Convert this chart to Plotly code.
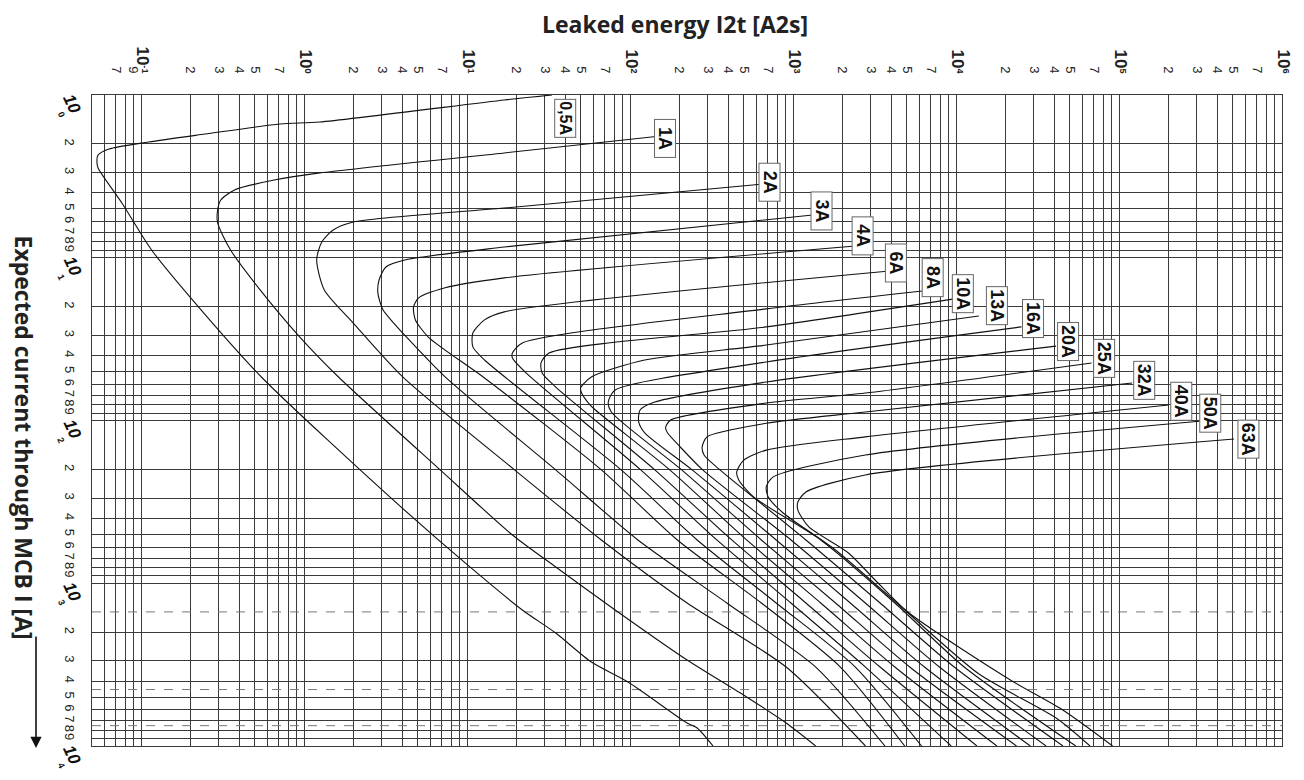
import numpy as np
import plotly.graph_objects as go

# ---------------- data ----------------
ratings = ["0,5A", "1A", "2A", "3A", "4A", "6A", "8A", "10A", "13A", "16A",
           "20A", "25A", "32A", "40A", "50A", "63A"]

# label box positions (I2t [A2s], current [A])
label_E = [40.0, 164, 716, 1496, 2673, 4266, 7200, 11010, 17810, 29660,
           48660, 81040, 142700, 240900, 363100, 622000]
label_I = [1.385, 1.837, 3.43, 5.16, 7.35, 10.8, 13.3, 16.7, 19.8, 23.8,
           32.5, 41.3, 56.4, 75.9, 89.9, 130]

E_05 = [28.9, 14.6, 1.04, 0.589, 0.201, 0.0897, 0.0509, 0.0435, 0.0428, 0.0435, 0.0612,
        0.0936, 0.19, 0.457, 2.88, 8.92, 18.9, 30.5, 50.8, 85.8, 200, 231, 290]
I_05 = [1.0, 1.073, 1.465, 1.507, 1.738, 1.944, 2.147, 2.337, 2.58, 2.81, 4.61,
        8.96, 20.9, 54.8, 299, 794, 1459, 2023, 3050, 4045, 7230, 7750, 10000]

E_1 = [137, 14.6, 1.04, 0.541, 0.307, 0.252, 0.241, 0.241, 0.29, 0.444, 0.782, 1.38,
       5.83, 16.4, 30.5, 71.4, 200, 469, 826, 1260]
I_1 = [1.786, 2.27, 3.01, 3.33, 3.83, 4.42, 5.09, 6.11, 8.96, 15.8, 30.7, 54.8,
       201, 505, 794, 1459, 2963, 5000, 7230, 10000]

E_2 = [596, 14.6, 1.68, 1.26, 1.07, 0.995, 1.11, 1.68, 3.41, 16.9, 58.6, 200, 826, 2570]
I_2 = [3.52, 4.95, 6.03, 6.75, 8.0, 10.3, 15.8, 25.2, 54.0, 201, 542, 1322, 3272, 10000]

E_3 = [1208, 14.6, 3.56, 2.68, 2.43, 2.39, 2.57, 3.0, 3.41, 6.26, 30.5, 98.9, 353, 1262, 3400]
I_3 = [5.46, 8.59, 10.3, 11.4, 13.7, 16.5, 20.9, 25.2, 29.0, 54.0, 201, 542, 1322, 3272, 10000]

E_4 = [2223, 14.6, 6.26, 4.27, 3.98, 4.09, 4.92, 11.0, 58.6, 174, 579, 1795, 4510]
I_4 = [8.47, 13.3, 15.3, 17.7, 20.1, 24.1, 30.7, 54.8, 201, 542, 1322, 3272, 10000]

E_6 = [3499, 14.6, 11.0, 9.31, 9.31, 11.0, 77.8, 231, 716, 2223, 5740]
I_6 = [12.1, 21.5, 24.1, 29.0, 35.3, 42.5, 201, 542, 1322, 3272, 10000]

E_8 = [5820, 621, 18.9, 16.4, 16.4, 20.0, 103, 306, 885, 2570, 8770]
I_8 = [16.0, 20.6, 33.4, 38.5, 41.3, 51.1, 201, 542, 1322, 3272, 10000]

E_10 = [9160, 621, 27.7, 24.7, 25.1, 30.5, 126, 379, 1096, 3170, 12680]
I_10 = [17.9, 26.6, 38.5, 44.3, 51.1, 62.3, 201, 542, 1322, 3272, 10000]

E_13 = [13040, 621, 109, 50.8, 43.5, 44.2, 48.7, 53.8, 156, 469, 1355, 3917, 16870]
I_13 = [22.8, 34.4, 42.5, 54.0, 63.1, 67.8, 78.1, 86.2, 201, 542, 1322, 3272, 10000]

E_16 = [23990, 621, 71.4, 64.7, 67.6, 185, 579, 1675, 4845, 22340]
I_16 = [26.6, 43.7, 65.0, 77.0, 88.7, 201, 542, 1322, 3272, 10000]

E_20 = [39360, 621, 126, 102, 100, 109, 215, 716, 2070, 5984, 27220]
I_20 = [34.9, 58.0, 77.0, 86.2, 102, 119, 201, 542, 1322, 3272, 10000]

E_25 = [65460, 2567, 621, 158, 147, 151, 182, 250, 885, 2567, 7413, 34120]
I_25 = [44.3, 67.8, 78.1, 99.3, 110, 119, 146, 201, 542, 1322, 3272, 10000]

E_32 = [117000, 2567, 621, 266, 248, 255, 320, 1096, 3170, 9160, 43460]
I_32 = [58.8, 88.7, 104, 126, 146, 163, 201, 542, 1322, 3272, 10000]

E_40 = [197700, 2567, 621, 450, 407, 419, 518, 1355, 3917, 10570, 52240]
I_40 = [80.3, 126, 152, 175, 207, 232, 295, 542, 1322, 3272, 10000]

E_50 = [306300, 2567, 686, 621, 639, 791, 1675, 4300, 13000, 40000, 64000]
I_50 = [101, 163, 222, 256, 295, 370, 625, 1400, 3600, 6800, 10000]

E_63 = [503500, 2567, 1096, 977, 977, 1143, 2015, 2951, 4710, 20480, 43350, 88500]
I_63 = [130, 216, 275, 317, 355, 451, 652, 955, 1503, 3930, 6010, 10000]

curves_E = [E_05, E_1, E_2, E_3, E_4, E_6, E_8, E_10, E_13, E_16, E_20, E_25, E_32, E_40, E_50, E_63]
curves_I = [I_05, I_1, I_2, I_3, I_4, I_6, I_8, I_10, I_13, I_16, I_20, I_25, I_32, I_40, I_50, I_63]

# breaking-capacity reference levels (dashed)
dashed_levels = [1500, 4500, 7500]

# axis ticks
x_range = [0.05, 1e6]
y_range = [1, 1e4]
x_decades = [-1, 0, 1, 2, 3, 4, 5, 6]
x_minor_labeled = {2: "2", 3: "3", 4: "4", 5: "5", 7: "7"}
y_decades = [0, 1, 2, 3, 4]

# ---------------- layout geometry ----------------
# the page body adds an 8 px offset, so the figure is drawn 16 px smaller
W, H = 1288, 764
ML, MR, MT, MB = 68, 14, 87, 26
EXTRA_L = 16                      # main grid starts 16 px right of the margin
plot_w = W - ML - MR
x_lo, x_hi = np.log10(x_range[0]), np.log10(x_range[1])
dec_px = (plot_w - EXTRA_L) / (x_hi - x_lo)
x2_lo = x_lo - EXTRA_L / dec_px   # overlay axis with identical scale, a bit wider

fig = go.Figure()

GRID = "#3a3a3a"
TICKFONT = dict(family="Liberation Sans, Arial, sans-serif", size=13, color="#222")
TITLEFONT = dict(family="Open Sans, Noto Sans, sans-serif", size=23, color="#222")
BOXFONT = "Liberation Sans Narrow, Arial Narrow, Liberation Sans, sans-serif"

for lvl in dashed_levels:
    fig.add_trace(go.Scatter(x=x_range, y=[lvl, lvl], mode="lines",
                             line=dict(color="#777", width=1, dash="dash"),
                             hoverinfo="skip", showlegend=False))

for name, E, I in zip(ratings, curves_E, curves_I):
    fig.add_trace(go.Scatter(x=E, y=I, mode="lines", name=name, xaxis="x2",
                             line=dict(color="#111", width=1.1, shape="spline", smoothing=0.7),
                             showlegend=False))

# x ticks: labelled ones as major ticks, the rest as minor grid lines
xt_vals, xt_text, xm_vals = [], [], []
for m in [6, 7, 8, 9]:
    if m in (7, 9):
        xt_vals.append(m * 0.01)
        xt_text.append(str(m))
    else:
        xm_vals.append(m * 0.01)
for d in x_decades:
    xt_vals.append(10.0 ** d)
    xt_text.append("<b><span style='font-size:17px'>10</span><sup>%d</sup></b>" % d)
    if d < 6:
        for m in range(2, 10):
            if m in x_minor_labeled:
                xt_vals.append(m * 10.0 ** d)
                xt_text.append(x_minor_labeled[m])
            else:
                xm_vals.append(m * 10.0 ** d)

yt_vals, yt_text, ym_vals = [], [], []
for d in y_decades:
    ym_vals.append(10.0 ** d)
    if d < 4:
        for m in range(2, 10):
            yt_vals.append(m * 10.0 ** d)
            yt_text.append(str(m))

fig.update_layout(
    xaxis=dict(type="log", range=[x_lo, x_hi], domain=[EXTRA_L / plot_w, 1],
               side="top", tickmode="array", tickvals=xt_vals, ticktext=xt_text,
               tickangle=90, ticks="", ticklabelstandoff=16, tickfont=TICKFONT,
               showgrid=True, gridcolor=GRID, gridwidth=1, automargin=False,
               minor=dict(tickmode="array", tickvals=xm_vals, showgrid=True,
                          gridcolor=GRID, gridwidth=1, ticks=""),
               showline=True, linecolor=GRID, linewidth=1, mirror=True, zeroline=False),
    xaxis2=dict(type="log", range=[x2_lo, x_hi], domain=[0, 1], anchor="y",
                overlaying="x", visible=False, automargin=False),
    yaxis=dict(type="log", range=[np.log10(y_range[1]), np.log10(y_range[0])],
               anchor="x", tickmode="array", tickvals=yt_vals, ticktext=yt_text,
               tickangle=90, ticks="", ticklabelstandoff=10, tickfont=TICKFONT,
               showgrid=True, gridcolor=GRID, gridwidth=1, automargin=False,
               minor=dict(tickmode="array", tickvals=ym_vals, showgrid=True,
                          gridcolor=GRID, gridwidth=1, ticks=""),
               showline=True, linecolor=GRID, linewidth=1, mirror=True, zeroline=False),
)

annotations = []
# rating labels
for name, e, i in zip(ratings, label_E, label_I):
    annotations.append(dict(x=np.log10(e), y=np.log10(i), xref="x", yref="y",
                            text="<b>%s</b>" % name, showarrow=False, textangle=90,
                            font=dict(family=BOXFONT, size=16 if name == "0,5A" else 18,
                                      color="#111"),
                            bgcolor="white", bordercolor="#666", borderwidth=1,
                            width=37, height=20, borderpad=0))
# y decade labels
for d in y_decades:
    annotations.append(dict(x=0, y=d, xref="x domain", yref="y", text="<b><i>10</i></b>",
                            showarrow=False, textangle=65, xshift=-20, yshift=-8,
                            xanchor="center", yanchor="middle",
                            font=dict(family="Liberation Sans, Arial, sans-serif", size=17, color="#111")))
    annotations.append(dict(x=0, y=d, xref="x domain", yref="y", text="<b>%d</b>" % d,
                            showarrow=False, textangle=65, xshift=-31, yshift=-19,
                            xanchor="center", yanchor="middle",
                            font=dict(family="Liberation Sans, Arial, sans-serif", size=9, color="#111")))
# titles
annotations.append(dict(x=0.49, y=1.0, xref="x domain", yref="paper", yshift=71,
                        xanchor="center", yanchor="middle",
                        text="<b>Leaked energy I2t [A2s]</b>", showarrow=False,
                        font=TITLEFONT))
annotations.append(dict(x=0, y=0.5, xref="x domain", yref="paper", xshift=-68, yshift=-17,
                        xanchor="center", yanchor="middle",
                        text="<b>Expected current through MCB I [A]</b>", showarrow=False,
                        textangle=90, font=TITLEFONT))
annotations.append(dict(x=0, y=0, xref="x domain", yref="paper", xshift=-56, yshift=-2,
                        text="", showarrow=True, ax=0, ay=-113, arrowhead=2,
                        arrowsize=1.4, arrowwidth=1.6, arrowcolor="#111"))

fig.update_layout(width=W, height=H, margin=dict(l=ML, r=MR, t=MT, b=MB),
                  plot_bgcolor="white", paper_bgcolor="white", annotations=annotations)

fig.write_html("out.html")
